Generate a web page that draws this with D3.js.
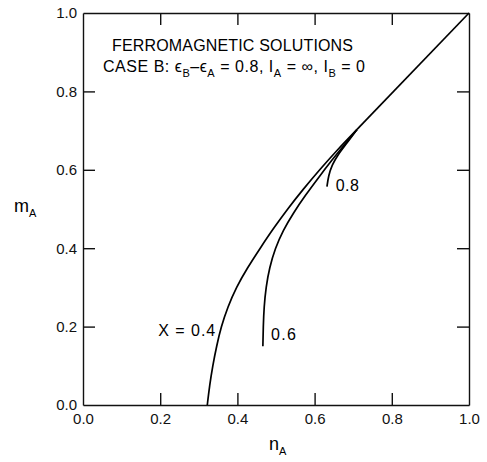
<!DOCTYPE html>
<html>
<head>
<meta charset="utf-8">
<script src="https://cdn.jsdelivr.net/npm/d3@7"></script>
<style>
  body { margin: 0; background: #fff; }
  svg { display: block; font-family: "Liberation Sans", Arial, sans-serif; }
  .axis path, .axis line { stroke: #111; stroke-width: 1.4; }
  .axis text { font-size: 15px; fill: #111; }
  .curve { fill: none; stroke: #000; stroke-width: 1.7; }
</style>
</head>
<body>
<svg width="487" height="462"></svg>
<script>
// Axis ticks
const xTicks = [0, 0.2, 0.4, 0.6, 0.8, 1.0];
const yTicks = [0, 0.2, 0.4, 0.6, 0.8, 1.0];

// Curves: [nA, mA]
const curveX04 = [[0.322,0],[0.328,0.05],[0.336,0.10],[0.346,0.15],[0.358,0.20],[0.375,0.25],
  [0.397,0.30],[0.426,0.35],[0.459,0.40],[0.493,0.45],[0.53,0.50],[0.57,0.55],[0.613,0.60],
  [0.658,0.65],[0.71,0.703]];
const curveX06 = [[0.466,0.15],[0.467,0.20],[0.469,0.25],[0.474,0.30],[0.483,0.35],[0.498,0.40],
  [0.518,0.445],[0.545,0.49],[0.576,0.535],[0.61,0.58],[0.645,0.625],[0.678,0.665],[0.71,0.703]];
const curveX08 = [[0.632,0.557],[0.636,0.585],[0.645,0.612],[0.66,0.638],[0.683,0.667],
  [0.71,0.703]];
const commonLine = [[0.71,0.703],[1.0,1.0]];

// Curve labels: [text, nA, mA, width]
const curveLabels = [["X = 0.4", 0.195, 0.19, 57], ["0.6", 0.487, 0.18, 25], ["0.8", 0.655, 0.56, 23]];

const svg = d3.select('svg');
const x = d3.scaleLinear().domain([0, 1]).range([83, 469]);
const y = d3.scaleLinear().domain([0, 1]).range([405, 13]);
const fmt = d3.format('.1f');

// bottom + left axes with labels, top + right axes with ticks only (all ticks inward)
svg.append('g').attr('class', 'axis').attr('transform', `translate(0,${y(0)})`)
  .call(d3.axisBottom(x).tickValues(xTicks).tickFormat(fmt).tickSize(-12).tickSizeOuter(0).tickPadding(8));
svg.append('g').attr('class', 'axis').attr('transform', `translate(${x(0)},0)`)
  .call(d3.axisLeft(y).tickValues(yTicks).tickFormat(fmt).tickSize(-12).tickSizeOuter(0).tickPadding(6));
svg.append('g').attr('class', 'axis').attr('transform', `translate(0,${y(1)})`)
  .call(d3.axisTop(x).tickValues(xTicks).tickFormat('').tickSize(-12).tickSizeOuter(0));
svg.append('g').attr('class', 'axis').attr('transform', `translate(${x(1)},0)`)
  .call(d3.axisRight(y).tickValues(yTicks).tickFormat('').tickSize(-12).tickSizeOuter(0));

// drop the end ticks that sit on the frame
svg.selectAll('.axis .tick').filter(d => d === 0 || d === 1).select('line').remove();

const line = d3.line().x(d => x(d[0])).y(d => y(d[1])).curve(d3.curveBasis);
[curveX04, curveX06, curveX08, commonLine].forEach(c => {
  svg.append('path').attr('class', 'curve').attr('d', line(c));
});

svg.selectAll('.clabel').data(curveLabels).join('text')
  .attr('class', 'clabel')
  .attr('x', d => x(d[1])).attr('y', d => y(d[2]))
  .attr('dy', '0.35em')
  .attr('textLength', d => d[3])
  .attr('lengthAdjust', 'spacing')
  .style('font-size', '16px')
  .text(d => d[0]);

// axis titles
const xl = svg.append('text').attr('x', 269).attr('y', 450).style('font-size', '18px');
xl.append('tspan').text('n');
xl.append('tspan').attr('dy', 5).style('font-size', '11px').text('A');

const yl = svg.append('text').attr('x', 14).attr('y', 212).style('font-size', '18px');
yl.append('tspan').text('m');
yl.append('tspan').attr('dy', 5).style('font-size', '11px').text('A');

// title block
svg.append('text').attr('x', 112).attr('y', 51)
  .attr('textLength', 241).attr('lengthAdjust', 'spacing')
  .style('font-size', '16px').text('FERROMAGNETIC SOLUTIONS');
const t2 = svg.append('text').attr('x', 103).attr('y', 72)
  .attr('textLength', 262).attr('lengthAdjust', 'spacing')
  .style('font-size', '16px');
const parts = [
  ['CASE B: ', 0], ['ϵ', 0], ['B', 1], ['–', -1], ['ϵ', 0], ['A', 1], [' = 0.8,  I', -1],
  ['A', 1], [' = ∞,  I', -1], ['B', 1], [' = 0', -1]
];
parts.forEach(([s, sub]) => {
  const ts = t2.append('tspan').text(s);
  if (sub === 1) ts.attr('dy', 5).style('font-size', '11px');
  if (sub === -1) ts.attr('dy', -5);
});
</script>
</body>
</html>
